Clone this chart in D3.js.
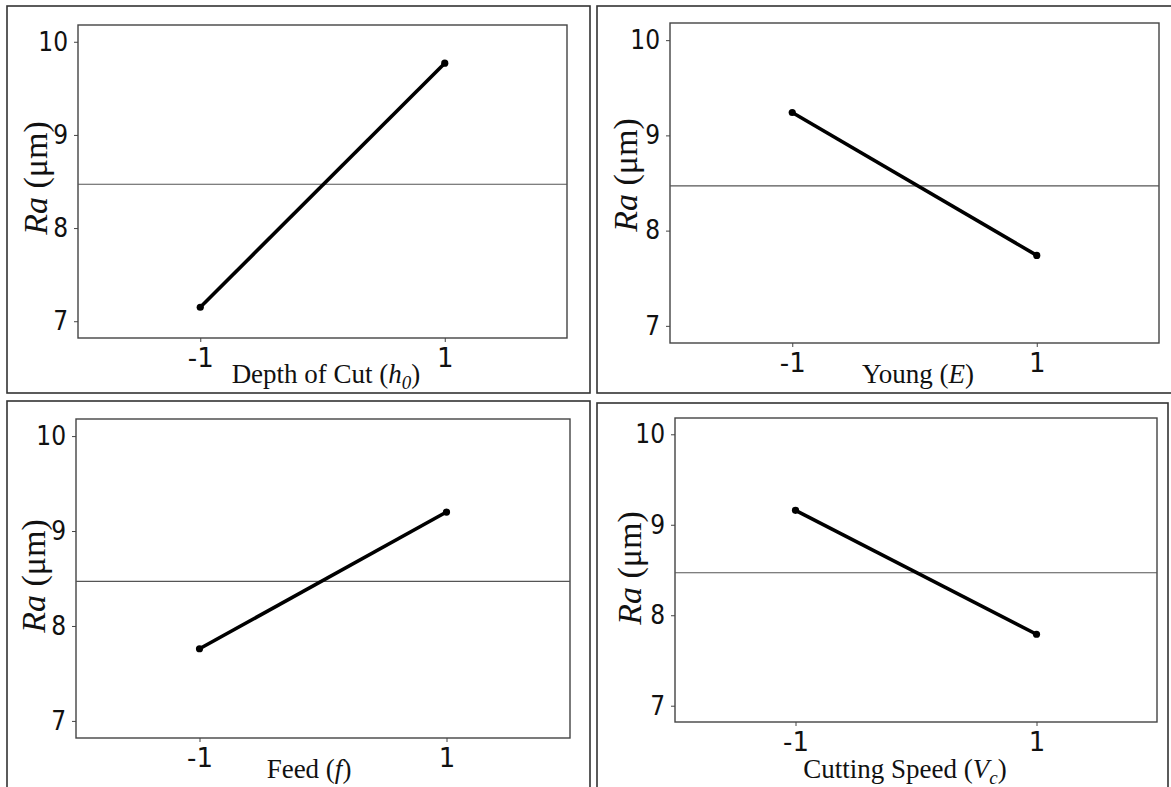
<!DOCTYPE html>
<html><head><meta charset="utf-8">
<script src="https://cdn.jsdelivr.net/npm/d3@7"></script>
<style>body{margin:0;background:#fff}svg{display:block}</style>
</head><body>
<svg id="c" width="1171" height="787"></svg>
<script>
// ---- data ----
const levels = [-1, 1];
const levelLabels = ["-1", "1"];
const yTicks = [7, 8, 9, 10];
const factorNames = ["Depth of Cut", "Young", "Feed", "Cutting Speed"];
const factorSymbols = ["h", "E", "f", "V"];
const factorSubs = ["0", "", "", "c"];
const depthOfCut = [7.15, 9.77];
const young = [9.24, 7.74];
const feed = [7.76, 9.20];
const cuttingSpeed = [9.16, 7.79];
const grandMean = 8.47;
const yLabelMain = "Ra";
const yLabelUnit = " (\u03bcm)";

// ---- layout ----
const series = [depthOfCut, young, feed, cuttingSpeed];
const layout = [
  {frame:[78,25,567,338], border:[7,6,590,393], ylab:[47,178], xlab:[326,383]},
  {frame:[670,23,1159,343], border:[597,6,1180,393], ylab:[637,175], xlab:[918,383]},
  {frame:[76,419,570,738], border:[7,401,590,800], ylab:[45,576], xlab:[309,778]},
  {frame:[675,418,1157,722], border:[597,403,1168,800], ylab:[641,568], xlab:[905,778]}
];

const svg = d3.select("#c");

series.forEach((vals, i) => {
  const L = layout[i];
  const [x0,y0,x1,y1] = L.frame;
  const [bx0,by0,bx1,by1] = L.border;
  const g = svg.append("g");
  g.append("rect").attr("x",bx0).attr("y",by0).attr("width",bx1-bx0).attr("height",by1-by0)
    .attr("fill","none").attr("stroke","#333").attr("stroke-width",1.6);

  const x = d3.scaleLinear().domain([-2,2]).range([x0,x1]);
  const y = d3.scaleLinear().domain([6.82,10.18]).range([y1,y0]);

  g.append("rect").attr("x",x0).attr("y",y0).attr("width",x1-x0).attr("height",y1-y0)
    .attr("fill","none").attr("stroke","#444").attr("stroke-width",1.4);

  const ya = g.append("g").attr("transform",`translate(${x0},0)`)
    .call(d3.axisLeft(y).tickValues(yTicks).tickSize(4).tickPadding(6).tickFormat(d3.format("d")));
  ya.select(".domain").remove();
  ya.selectAll("line").attr("stroke","#444");
  ya.selectAll("text").attr("font-family","'DejaVu Sans'").attr("font-size",26).attr("fill","#111")
    .attr("transform","scale(0.9,1)").attr("x",-11);

  const xa = g.append("g").attr("transform",`translate(0,${y1})`)
    .call(d3.axisBottom(x).tickValues(levels).tickSize(4).tickPadding(7).tickFormat((d,j)=>levelLabels[j]));
  xa.select(".domain").remove();
  xa.selectAll("line").attr("stroke","#444");
  xa.selectAll("text").attr("font-family","'DejaVu Sans'").attr("font-size",26).attr("fill","#111");

  g.append("line").attr("x1",x0).attr("x2",x1).attr("y1",y(grandMean)).attr("y2",y(grandMean))
    .attr("stroke","#555").attr("stroke-width",1.1);

  const line = d3.line().x((d,j)=>x(levels[j])).y(d=>y(d));
  g.append("path").datum(vals).attr("d",line).attr("fill","none").attr("stroke","#000").attr("stroke-width",3.6);
  g.selectAll("circle.pt").data(vals).join("circle").attr("class","pt")
    .attr("cx",(d,j)=>x(levels[j])).attr("cy",d=>y(d)).attr("r",3.6).attr("fill","#000");

  const yl = g.append("text").attr("transform",`translate(${L.ylab[0]},${L.ylab[1]}) rotate(-90)`)
    .attr("text-anchor","middle").attr("font-family","'Liberation Serif'").attr("font-size",34).attr("fill","#111");
  yl.append("tspan").attr("font-style","italic").text(yLabelMain);
  yl.append("tspan").text(yLabelUnit);

  const xl = g.append("text").attr("x",L.xlab[0]).attr("y",L.xlab[1])
    .attr("text-anchor","middle").attr("font-family","'Liberation Serif'").attr("font-size",27).attr("fill","#111");
  xl.append("tspan").text(factorNames[i] + " (");
  xl.append("tspan").attr("font-style","italic").text(factorSymbols[i]);
  if (factorSubs[i]) xl.append("tspan").attr("font-style","italic").attr("font-size",19).attr("dy",6).text(factorSubs[i]);
  xl.append("tspan").attr("dy", factorSubs[i] ? -6 : 0).text(")");
});
</script>
</body></html>
